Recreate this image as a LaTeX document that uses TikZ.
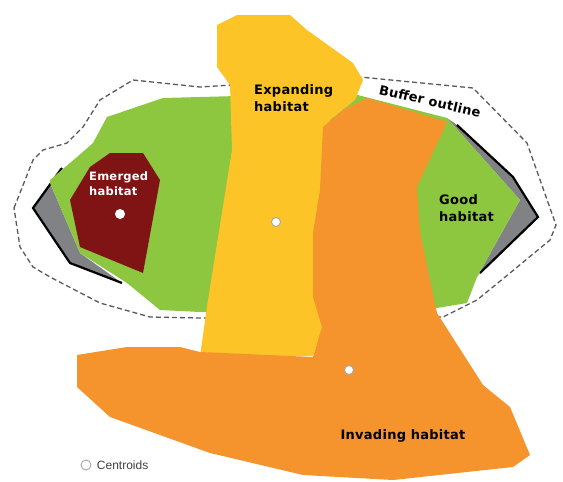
\documentclass[tikz,border=0pt]{standalone}
\usepackage{fontspec}
\setmainfont{Liberation Sans}
\newfontfamily\hand{DejaVu Sans}[LetterSpace=2]
\usepackage{xcolor}
\usetikzlibrary{positioning}
\definecolor{goodgreen}{RGB}{141,198,63}
\definecolor{expyellow}{RGB}{252,196,38}
\definecolor{invorange}{RGB}{245,148,45}
\definecolor{emred}{RGB}{128,20,20}
\definecolor{lossgray}{RGB}{128,130,133}

\begin{document}
\begin{tikzpicture}[x=1pt,y=-1pt, every node/.style={font=\hand\bfseries},
  rim/.style={line width=2.2pt,line join=miter},
  buffer/.style={dash pattern=on 5pt off 3pt,line width=1.3pt,black!65},
  cen/.style={circle,draw=gray!70,fill=white,line width=0.9pt,inner sep=0pt,minimum size=9pt},
  lab/.style={align=left,inner sep=0pt,font=\hand\bfseries\fontsize{13}{17}\selectfont}]
\useasboundingbox (0,0) rectangle (563,482);
% buffer outline
\draw[buffer] (14,208) -- (33,160) -- (43,150) -- (67,143) -- (83,127) --
  (100,100) -- (133,80) -- (200,87) -- (360,77) -- (473,88) -- (527,143) --
  (556,225) -- (550,240) -- (510,273) -- (477,300) -- (443,317) -- (200,318)
  -- (150,317) -- (100,303) -- (50,277) -- (33,267) -- (20,247) -- cycle;
% lost habitat
\fill[lossgray] (60,168) -- (33,208) -- (70,263) -- (122,283) -- (80,253) --
  (50,183) -- cycle;
\draw[rim] (62,168) -- (33,208) -- (70,263) -- (122,283);
\fill[lossgray] (457,125) -- (513,177) -- (538,217) -- (480,273) -- (477,277)
  -- (520,200) -- (447,118) -- cycle;
\draw[rim] (457,125) -- (513,177) -- (538,217) -- (480,273);
% good habitat
\fill[goodgreen] (50,180) -- (77,157) -- (93,143) -- (107,117) -- (163,98) --
  (350,93) -- (447,118) -- (520,200) -- (477,277) -- (467,303) -- (437,308) --
  (200,312) -- (160,310) -- (127,283) -- (80,253) -- (50,183) -- cycle;
% emerged habitat
\fill[emred] (110,153) -- (143,153) -- (160,180) -- (143,273) -- (80,247) --
  (70,200) -- (90,167) -- cycle;
% expanding habitat
\fill[expyellow] (217,25) -- (237,15) -- (290,15) -- (307,30) -- (353,63) --
  (363,80) -- (355,100) -- (330,120) -- (322,330) -- (313,356) -- (200,356) --
  (208,300) -- (232,150) -- (230,85) -- (217,67) -- cycle;
% invading habitat
\fill[invorange] (343,110) -- (367,98) -- (447,122) -- (417,187) -- (420,233)
  -- (437,313) -- (483,385) -- (510,407) -- (530,455) -- (513,467) --
  (393,480) -- (303,475) -- (210,453) -- (110,417) -- (77,387) -- (77,355) --
  (127,347) -- (180,347) -- (200,352) -- (313,357) -- (322,327) -- (313,297)
  -- (313,233) -- (320,190) -- (323,127) -- cycle;
% labels
\node[lab,font=\hand\bfseries\fontsize{11.5}{15}\selectfont,text=white,anchor=west]
  (emerged) at (89,184) {Emerged\\habitat};
\node[lab,anchor=west] (expand) at (254,98) {Expanding\\habitat};
\node[lab,anchor=west] (good) at (439,208) {Good\\habitat};
\node[lab] (invade) at (403,436) {Invading habitat};
\node[lab,rotate=-13] (buflab) at (430,101) {Buffer outline};
% centroids
\node[cen,draw=white] (cemerged) at (120,214) {};
\node[cen] (cexpand) at (276,222) {};
\node[cen] (cinvade) at (349,370) {};
\node[cen,minimum size=10pt] (legdot) at (86,465) {};
\node[right=2pt of legdot,font=\fontsize{12}{14}\selectfont,text=gray!50!black]
  (legtext) {Centroids};
\end{tikzpicture}
\end{document}
